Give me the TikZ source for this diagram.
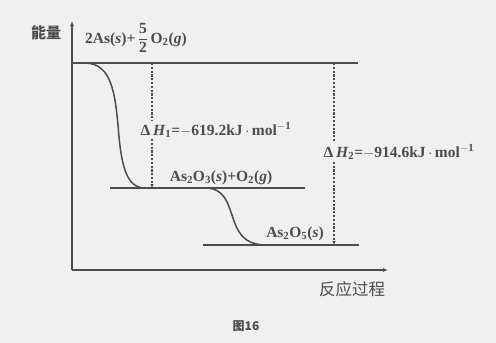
\documentclass[tikz,border=0pt]{standalone}
\usepackage{fontspec}
\setmainfont{Liberation Serif}
\newfontfamily\cjk{Noto Sans CJK SC}
\usetikzlibrary{arrows.meta}
\definecolor{ink}{gray}{0.3}
\definecolor{paper}{gray}{0.94}
\tikzset{
  axis/.style={ink, line width=1.6pt, -{Latex[length=5pt,width=4pt]}},
  level/.style={ink, line width=1.8pt},
  curve/.style={ink, line width=1.5pt},
  gap/.style={ink, line width=1.4pt, dash pattern=on 2.2pt off 1.6pt, -{Latex[length=4pt,width=3.5pt]}},
  lbl/.style={text=ink, inner sep=0pt, font=\bfseries\fontsize{15.5}{17}\selectfont},
  masked/.style={lbl, fill=paper, inner ysep=2pt},
  cjklbl/.style={text=ink, inner sep=0pt},
}
\begin{document}
\begin{tikzpicture}[x=1pt,y=-1pt]
\fill[paper] (0,0) rectangle (496,343);
\useasboundingbox (0,0) rectangle (496,343);
% axes
\coordinate (O) at (72,270);
\coordinate (Ytop) at (72,21);
\coordinate (Xend) at (388,270);
\draw[axis] (O) -- (Ytop);
\draw[axis] (O) -- (Xend);
\node[cjklbl, font=\cjk\bfseries\fontsize{15}{17}\selectfont] (ylab) at (46,33) {能量};
\node[cjklbl, font=\cjk\fontsize{16.5}{18}\selectfont] (xlab) at (352,289) {反应过程};
% levels
\coordinate (T1) at (72,63);  \coordinate (T2) at (358,63);
\coordinate (M1) at (110,188); \coordinate (M2) at (305,188);
\coordinate (B1) at (203,245); \coordinate (B2) at (359,245);
\draw[level] (T1) -- (T2);
\draw[level] (M1) -- (M2);
\draw[level] (B1) -- (B2);
% curves
\coordinate (C1a) at (85,63); \coordinate (C1b) at (118,125); \coordinate (C1c) at (145,188);
\draw[curve] (C1a) .. controls (112,63) and (115,95) .. (C1b)
  .. controls (121,165) and (126,188) .. (C1c);
\coordinate (C2a) at (205,188); \coordinate (C2b) at (233,218); \coordinate (C2c) at (268,245);
\draw[curve] (C2a) .. controls (225,188) and (228,204) .. (C2b)
  .. controls (240,240) and (250,245) .. (C2c);
% enthalpy gaps
\coordinate (D1t) at (152,63); \coordinate (D1b) at (152,188);
\coordinate (D2t) at (334,63); \coordinate (D2b) at (334,245);
\draw[gap] (D1t) -- (D1b);
\draw[gap] (D2t) -- (D2b);
% labels
\node[lbl, anchor=west] (top) at (85,38) {2As(\textit{s})+\,{$\displaystyle\frac{\textbf{5}}{\textbf{2}}$}\,O\textsubscript{2}(\textit{g})};
\node[lbl] (mid) at (221,178) {As\textsubscript{2}O\textsubscript{3}(\textit{s})+O\textsubscript{2}(\textit{g})};
\node[lbl] (bot) at (295,234) {As\textsubscript{2}O\textsubscript{5}(\textit{s})};
\node[masked] (dh1) at (216,130) {Δ\,\textit{H}\textsubscript{1}=$-$619.2kJ\,$\cdot$\,mol\textsuperscript{$-$1}};
\node[masked] (dh2) at (399,152) {Δ\,\textit{H}\textsubscript{2}=$-$914.6kJ\,$\cdot$\,mol\textsuperscript{$-$1}};
\node[cjklbl, font=\cjk\bfseries\fontsize{12}{14}\selectfont] (cap) at (246,326) {图16};
\end{tikzpicture}
\end{document}
